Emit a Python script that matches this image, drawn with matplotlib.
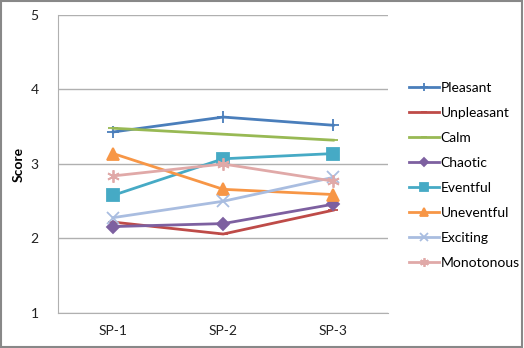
import matplotlib.pyplot as plt
from matplotlib.patches import Rectangle

plt.rcParams['font.family'] = ['Lato', 'DejaVu Sans']

sites = ['SP-1', 'SP-2', 'SP-3']
pleasant = [3.43, 3.63, 3.52]
unpleasant = [2.22, 2.06, 2.38]
calm = [3.48, 3.40, 3.32]
chaotic = [2.16, 2.20, 2.46]
eventful = [2.58, 3.07, 3.14]
uneventful = [3.14, 2.66, 2.59]
exciting = [2.28, 2.50, 2.82]
monotonous = [2.84, 3.00, 2.77]

series = [
    ('Pleasant', pleasant, '#4A7EBB', '+', 9),
    ('Unpleasant', unpleasant, '#BE4B48', '_', 7),
    ('Calm', calm, '#98B954', '_', 7),
    ('Chaotic', chaotic, '#7D60A0', 'D', 6),
    ('Eventful', eventful, '#46AAC5', 's', 8),
    ('Uneventful', uneventful, '#F79646', '^', 8),
    ('Exciting', exciting, '#A9BDE0', 'x', 8),
    ('Monotonous', monotonous, '#E0A9A8', (6, 2, 0), 9),
]

fig = plt.figure(figsize=(5.24, 3.48), dpi=100)
ax = fig.add_axes([0.111, 0.1006, 0.630, 0.8563])

x = range(len(sites))
for name, vals, col, mk, ms in series:
    ax.plot(x, vals, color=col, lw=2, marker=mk, markersize=ms,
            markeredgewidth=1.3, label=name)

ax.set_xlim(-0.5, 2.5)
ax.set_ylim(1, 5)
ax.set_yticks([1, 2, 3, 4, 5])
ax.set_xticks(list(x))
ax.set_xticklabels(sites)
ax.tick_params(length=0, labelsize=10, colors='#222222')
ax.tick_params(axis='y', pad=14)
ax.tick_params(axis='x', pad=9)
ax.grid(axis='y', color='#b0b0b0', lw=1)
ax.set_axisbelow(True)
for s in ['top', 'right']:
    ax.spines[s].set_visible(False)
for s in ['left', 'bottom']:
    ax.spines[s].set_color('#b0b0b0')
ax.set_ylabel('Score', fontsize=10, fontweight='bold', labelpad=4)

ax.legend(loc='upper left', bbox_to_anchor=(1.045, 0.793), frameon=False,
          numpoints=1, fontsize=10, handlelength=2.2, handletextpad=0.1,
          labelspacing=0.93, borderaxespad=0, markerscale=0.7)

fig.patches.append(Rectangle((0.002, 0.003), 0.995, 0.994, transform=fig.transFigure,
                             fill=False, edgecolor='#888888', lw=1.5))

fig.savefig('out.png', dpi=100)
